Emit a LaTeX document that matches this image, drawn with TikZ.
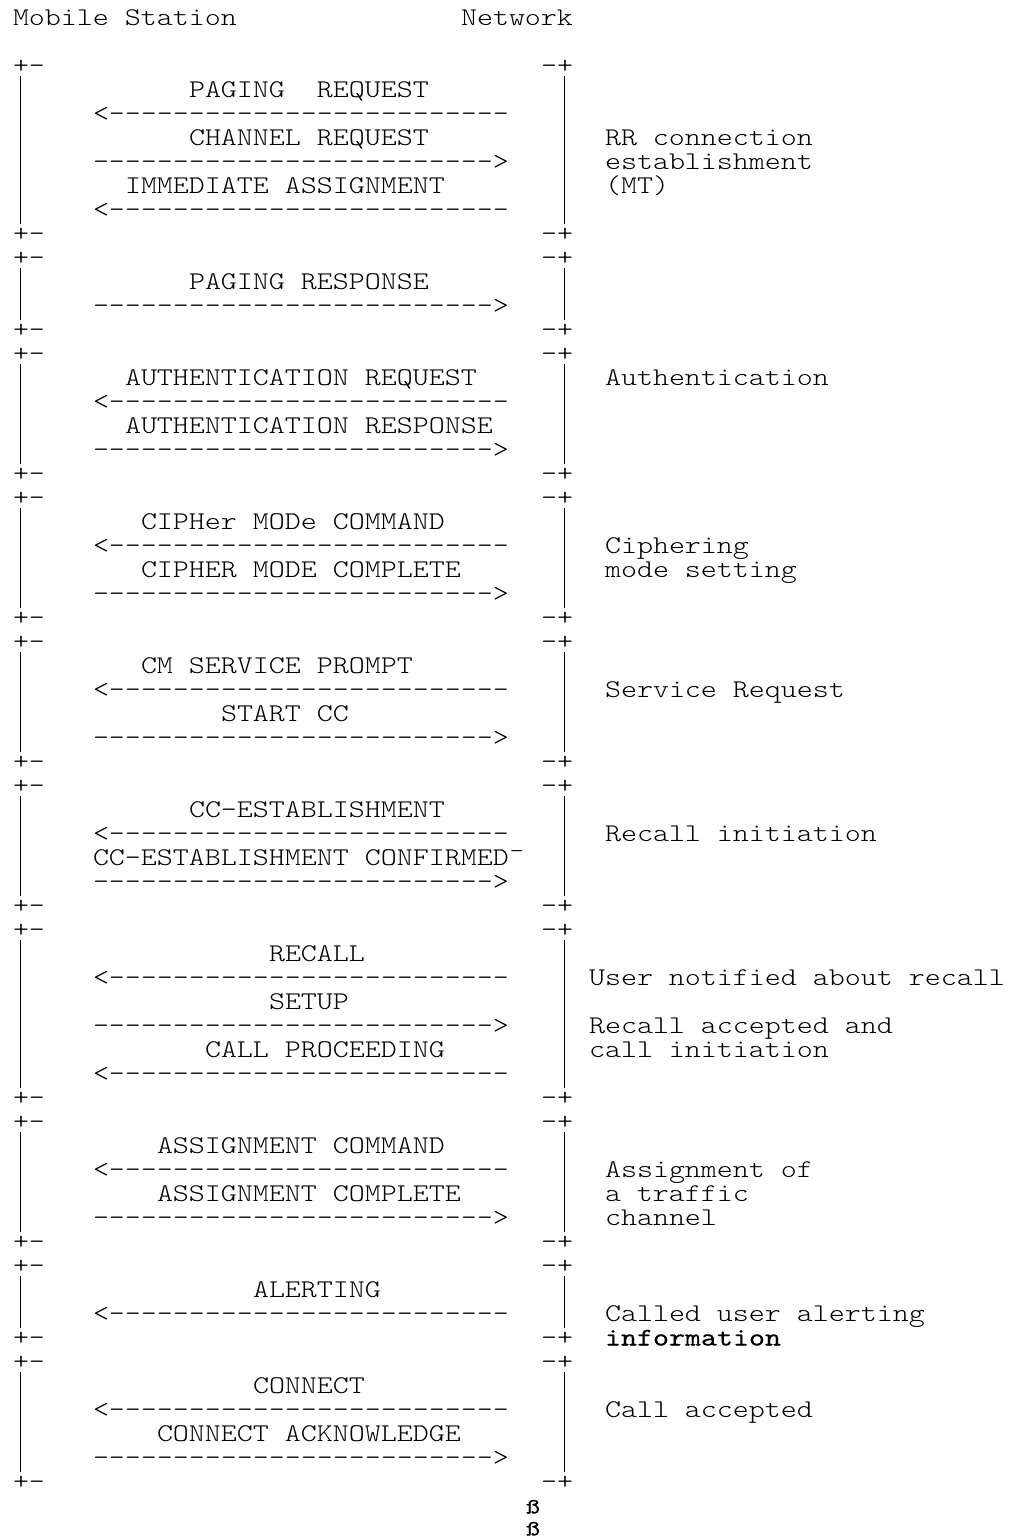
\documentclass[tikz,border=0pt]{standalone}
\usepackage{fontspec}
\usetikzlibrary{calc}
\newfontfamily\courfam{lmmonolt10-regular.otf}[FakeStretch=1.195]
\newfontfamily\courbfam{lmmono10-regular.otf}[FakeStretch=1.195,FakeBold=0.3]
\newcommand\fivedash{-{}-{}-{}-{}-{}}
\newcommand\dashrun{\fivedash\fivedash\fivedash\fivedash\fivedash}
\newcommand\larrow{<\dashrun}
\newcommand\rarrow{\dashrun>}
\tikzset{
  txt/.style={anchor=base west, inner sep=0pt, outer sep=0pt,
    font=\courfam\fontsize{25.5pt}{24pt}\selectfont},
  txtb/.style={txt, font=\courbfam\fontsize{25.5pt}{24pt}\selectfont},
  txts/.style={txt, font=\courbfam\fontsize{22pt}{22pt}\selectfont},
  bar/.style={line width=1.1pt, black},
}
\begin{document}
\begin{tikzpicture}[x=1pt,y=1pt]
\fill[white] (0,0) rectangle (1012,-1539);
\useasboundingbox (0,0) rectangle (1012,-1539);
\begin{scope}[x=16pt,y=-24pt,shift={(13pt,-25.5pt)}]
% headers
\node[txt] (ms) at (0,0) {Mobile Station};
\node[txt] (nw) at (28,0) {Network};
% block frames
\foreach \t/\u [count=\i] in {2/9,10/13,14/19,20/25,26/31,32/37,38/45,46/51,52/55,56/61}{
  \node[txt] (tl\i) at (0,\t) {+-};
  \node[txt] (tr\i) at (33,\t) {-+};
  \node[txt] (bl\i) at (0,\u) {+-};
  \node[txt] (br\i) at (33,\u) {-+};
  \draw[bar] ($(tl\i.base west)+(7.5pt,-2.5pt)$) -- ($(bl\i.base west)+(7.5pt,17.5pt)$);
  \draw[bar] ($(tr\i.base west)+(23.5pt,-2.5pt)$) -- ($(br\i.base west)+(23.5pt,17.5pt)$);
}
% RR connection
\node[txt] (m1) at (11,3) {PAGING~~REQUEST};
\node[txt] (a1) at (5,4) {\larrow};
\node[txt] (m2) at (11,5) {CHANNEL REQUEST};
\node[txt] (a2) at (5,6) {\rarrow};
\node[txt] (m3) at (7,7) {IMMEDIATE ASSIGNMENT};
\node[txt] (a3) at (5,8) {\larrow};
\node[txt] (n1) at (37,5) {RR connection};
\node[txt] (n2) at (37,6) {establishment};
\node[txt] (n3) at (37,7) {(MT)};
% paging response
\node[txt] (m4) at (11,11) {PAGING RESPONSE};
\node[txt] (a4) at (5,12) {\rarrow};
% authentication
\node[txt] (m5) at (7,15) {AUTHENTICATION REQUEST};
\node[txt] (a5) at (5,16) {\larrow};
\node[txt] (m6) at (7,17) {AUTHENTICATION RESPONSE};
\node[txt] (a6) at (5,18) {\rarrow};
\node[txt] (n4) at (37,15) {Authentication};
% ciphering
\node[txt] (m7) at (8,21) {CIPHer MODe COMMAND};
\node[txt] (a7) at (5,22) {\larrow};
\node[txt] (m8) at (8,23) {CIPHER MODE COMPLETE};
\node[txt] (a8) at (5,24) {\rarrow};
\node[txt] (n5) at (37,22) {Ciphering};
\node[txt] (n6) at (37,23) {mode setting};
% service request
\node[txt] (m9) at (8,27) {CM SERVICE PROMPT};
\node[txt] (a9) at (5,28) {\larrow};
\node[txt] (m10) at (13,29) {START CC};
\node[txt] (a10) at (5,30) {\rarrow};
\node[txt] (n7) at (37,28) {Service Request};
% recall initiation
\node[txt] (m11) at (11,33) {CC-ESTABLISHMENT};
\node[txt] (a11) at (5,34) {\larrow};
\node[txt] (m12) at (5,35) {CC-ESTABLISHMENT CONFIRMED¯};
\node[txt] (a12) at (5,36) {\rarrow};
\node[txt] (n8) at (37,34) {Recall initiation};
% recall
\node[txt] (m13) at (16,39) {RECALL};
\node[txt] (a13) at (5,40) {\larrow};
\node[txt] (m14) at (16,41) {SETUP};
\node[txt] (a14) at (5,42) {\rarrow};
\node[txt] (m15) at (12,43) {CALL PROCEEDING};
\node[txt] (a15) at (5,44) {\larrow};
\node[txt] (n9) at (36,40) {User notified about recall};
\node[txt] (n10) at (36,42) {Recall accepted and};
\node[txt] (n11) at (36,43) {call initiation};
% assignment
\node[txt] (m16) at (9,47) {ASSIGNMENT COMMAND};
\node[txt] (a16) at (5,48) {\larrow};
\node[txt] (m17) at (9,49) {ASSIGNMENT COMPLETE};
\node[txt] (a17) at (5,50) {\rarrow};
\node[txt] (n12) at (37,48) {Assignment of};
\node[txt] (n13) at (37,49) {a traffic};
\node[txt] (n14) at (37,50) {channel};
% alerting
\node[txt] (m18) at (15,53) {ALERTING};
\node[txt] (a18) at (5,54) {\larrow};
\node[txt] (n15) at (37,54) {Called user alerting};
\node[txtb] (n16) at (37,55) {information};
% connect
\node[txt] (m19) at (15,57) {CONNECT};
\node[txt] (a19) at (5,58) {\larrow};
\node[txt] (m20) at (9,59) {CONNECT ACKNOWLEDGE};
\node[txt] (a20) at (5,60) {\rarrow};
\node[txt] (n17) at (37,58) {Call accepted};
% trailing
\node[txts] (s1) at ($(32,62)+(1pt,0)$) {ß};
\node[txts] (s2) at ($(32,63)+(1pt,2pt)$) {ß};
\end{scope}
\end{tikzpicture}
\end{document}
